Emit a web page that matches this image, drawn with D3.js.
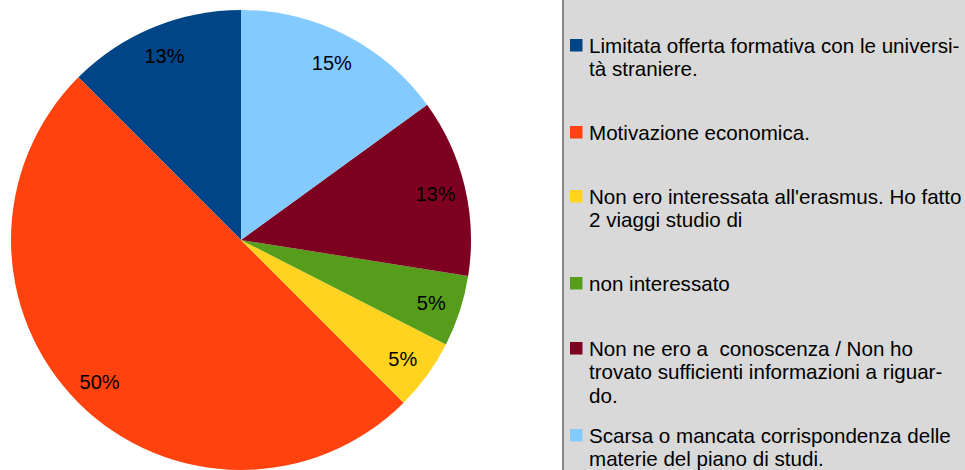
<!DOCTYPE html>
<html>
<head>
<meta charset="utf-8">
<script src="https://cdn.jsdelivr.net/npm/d3@7"></script>
<style>
  body { margin: 0; background: #fff; }
  svg { display: block; font-family: "Liberation Sans", Arial, sans-serif; }
</style>
</head>
<body>
<div id="chart"></div>
<script>
(function() {
	// answers (counts out of 40 responses)
	let categories = [
		'Limitata offerta formativa con le università straniere.',
		'Motivazione economica.',
		"Non ero interessata all'erasmus. Ho fatto 2 viaggi studio di",
		'non interessato',
		'Non ne ero a  conoscenza / Non ho trovato sufficienti informazioni a riguardo.',
		'Scarsa o mancata corrispondenza delle materie del piano di studi.'
	];
	let counts = [5, 20, 2, 2, 5, 6];
	let colors = ['#004586', '#ff420e', '#ffd320', '#579d1c', '#7e0021', '#83caff'];
	// legend lines as wrapped in the original
	let legendLines = [
		['Limitata offerta formativa con le universi-', 'tà straniere.'],
		['Motivazione economica.'],
		["Non ero interessata all'erasmus. Ho fatto", '2 viaggi studio di'],
		['non interessato'],
		['Non ne ero a  conoscenza / Non ho', 'trovato sufficienti informazioni a riguar-', 'do.'],
		['Scarsa o mancata corrispondenza delle', 'materie del piano di studi.']
	];

	let width = 965, height = 470;
	let cx = 241, cy = 240, radius = 230;

	let svg = d3.select('#chart')
		.append('svg')
		.attr('width', width)
		.attr('height', height);

	let total = d3.sum(counts);
	let data = categories.map((c, i) => ({ name: c, value: counts[i], color: colors[i] }));

	// slices go counter-clockwise from 12 o'clock
	let pie = d3.pie()
		.value(d => d.value)
		.sort(null)
		.startAngle(0)
		.endAngle(-2 * Math.PI);

	let arc = d3.arc().innerRadius(0).outerRadius(radius);
	let labelArc = d3.arc().innerRadius(200).outerRadius(200);

	let g = svg.append('g').attr('transform', `translate(${cx},${cy})`);

	g.selectAll('.slice')
		.data(pie(data))
		.enter()
		.append('path')
		.attr('class', 'slice')
		.attr('d', arc)
		.attr('fill', d => d.data.color);

	g.selectAll('.pct')
		.data(pie(data))
		.enter()
		.append('text')
		.attr('class', 'pct')
		.attr('transform', d => `translate(${labelArc.centroid(d)})`)
		.attr('text-anchor', 'middle')
		.attr('dy', '0.4em')
		.style('font-size', '20px')
		.attr('fill', '#000')
		.text(d => Math.round(d.data.value / total * 100) + '%');

	// legend panel
	let panelX = 563;
	svg.append('rect')
		.attr('x', panelX)
		.attr('y', 0)
		.attr('width', width - panelX)
		.attr('height', height)
		.attr('fill', '#d9d9d9');
	svg.append('line')
		.attr('x1', panelX).attr('x2', panelX)
		.attr('y1', 0).attr('y2', height)
		.attr('stroke', '#666')
		.attr('stroke-width', 1.5);

	let firstBaselines = [53, 140, 204, 291, 356, 443];
	let lineH = 23.3;

	let items = svg.selectAll('.legend-item')
		.data(data)
		.enter()
		.append('g')
		.attr('class', 'legend-item')
		.attr('transform', (d, i) => `translate(0,${firstBaselines[i]})`);

	items.append('rect')
		.attr('x', 570)
		.attr('y', -14)
		.attr('width', 12.5)
		.attr('height', 12.5)
		.attr('fill', d => d.color);

	items.append('text')
		.attr('x', 589)
		.attr('fill', '#000')
		.style('font-size', '20.6px')
		.style('white-space', 'pre')
		.selectAll('tspan')
		.data((d, i) => legendLines[i])
		.enter()
		.append('tspan')
		.attr('x', 589)
		.attr('y', (d, j) => j * lineH)
		.text(d => d);
})();
</script>
</body>
</html>
